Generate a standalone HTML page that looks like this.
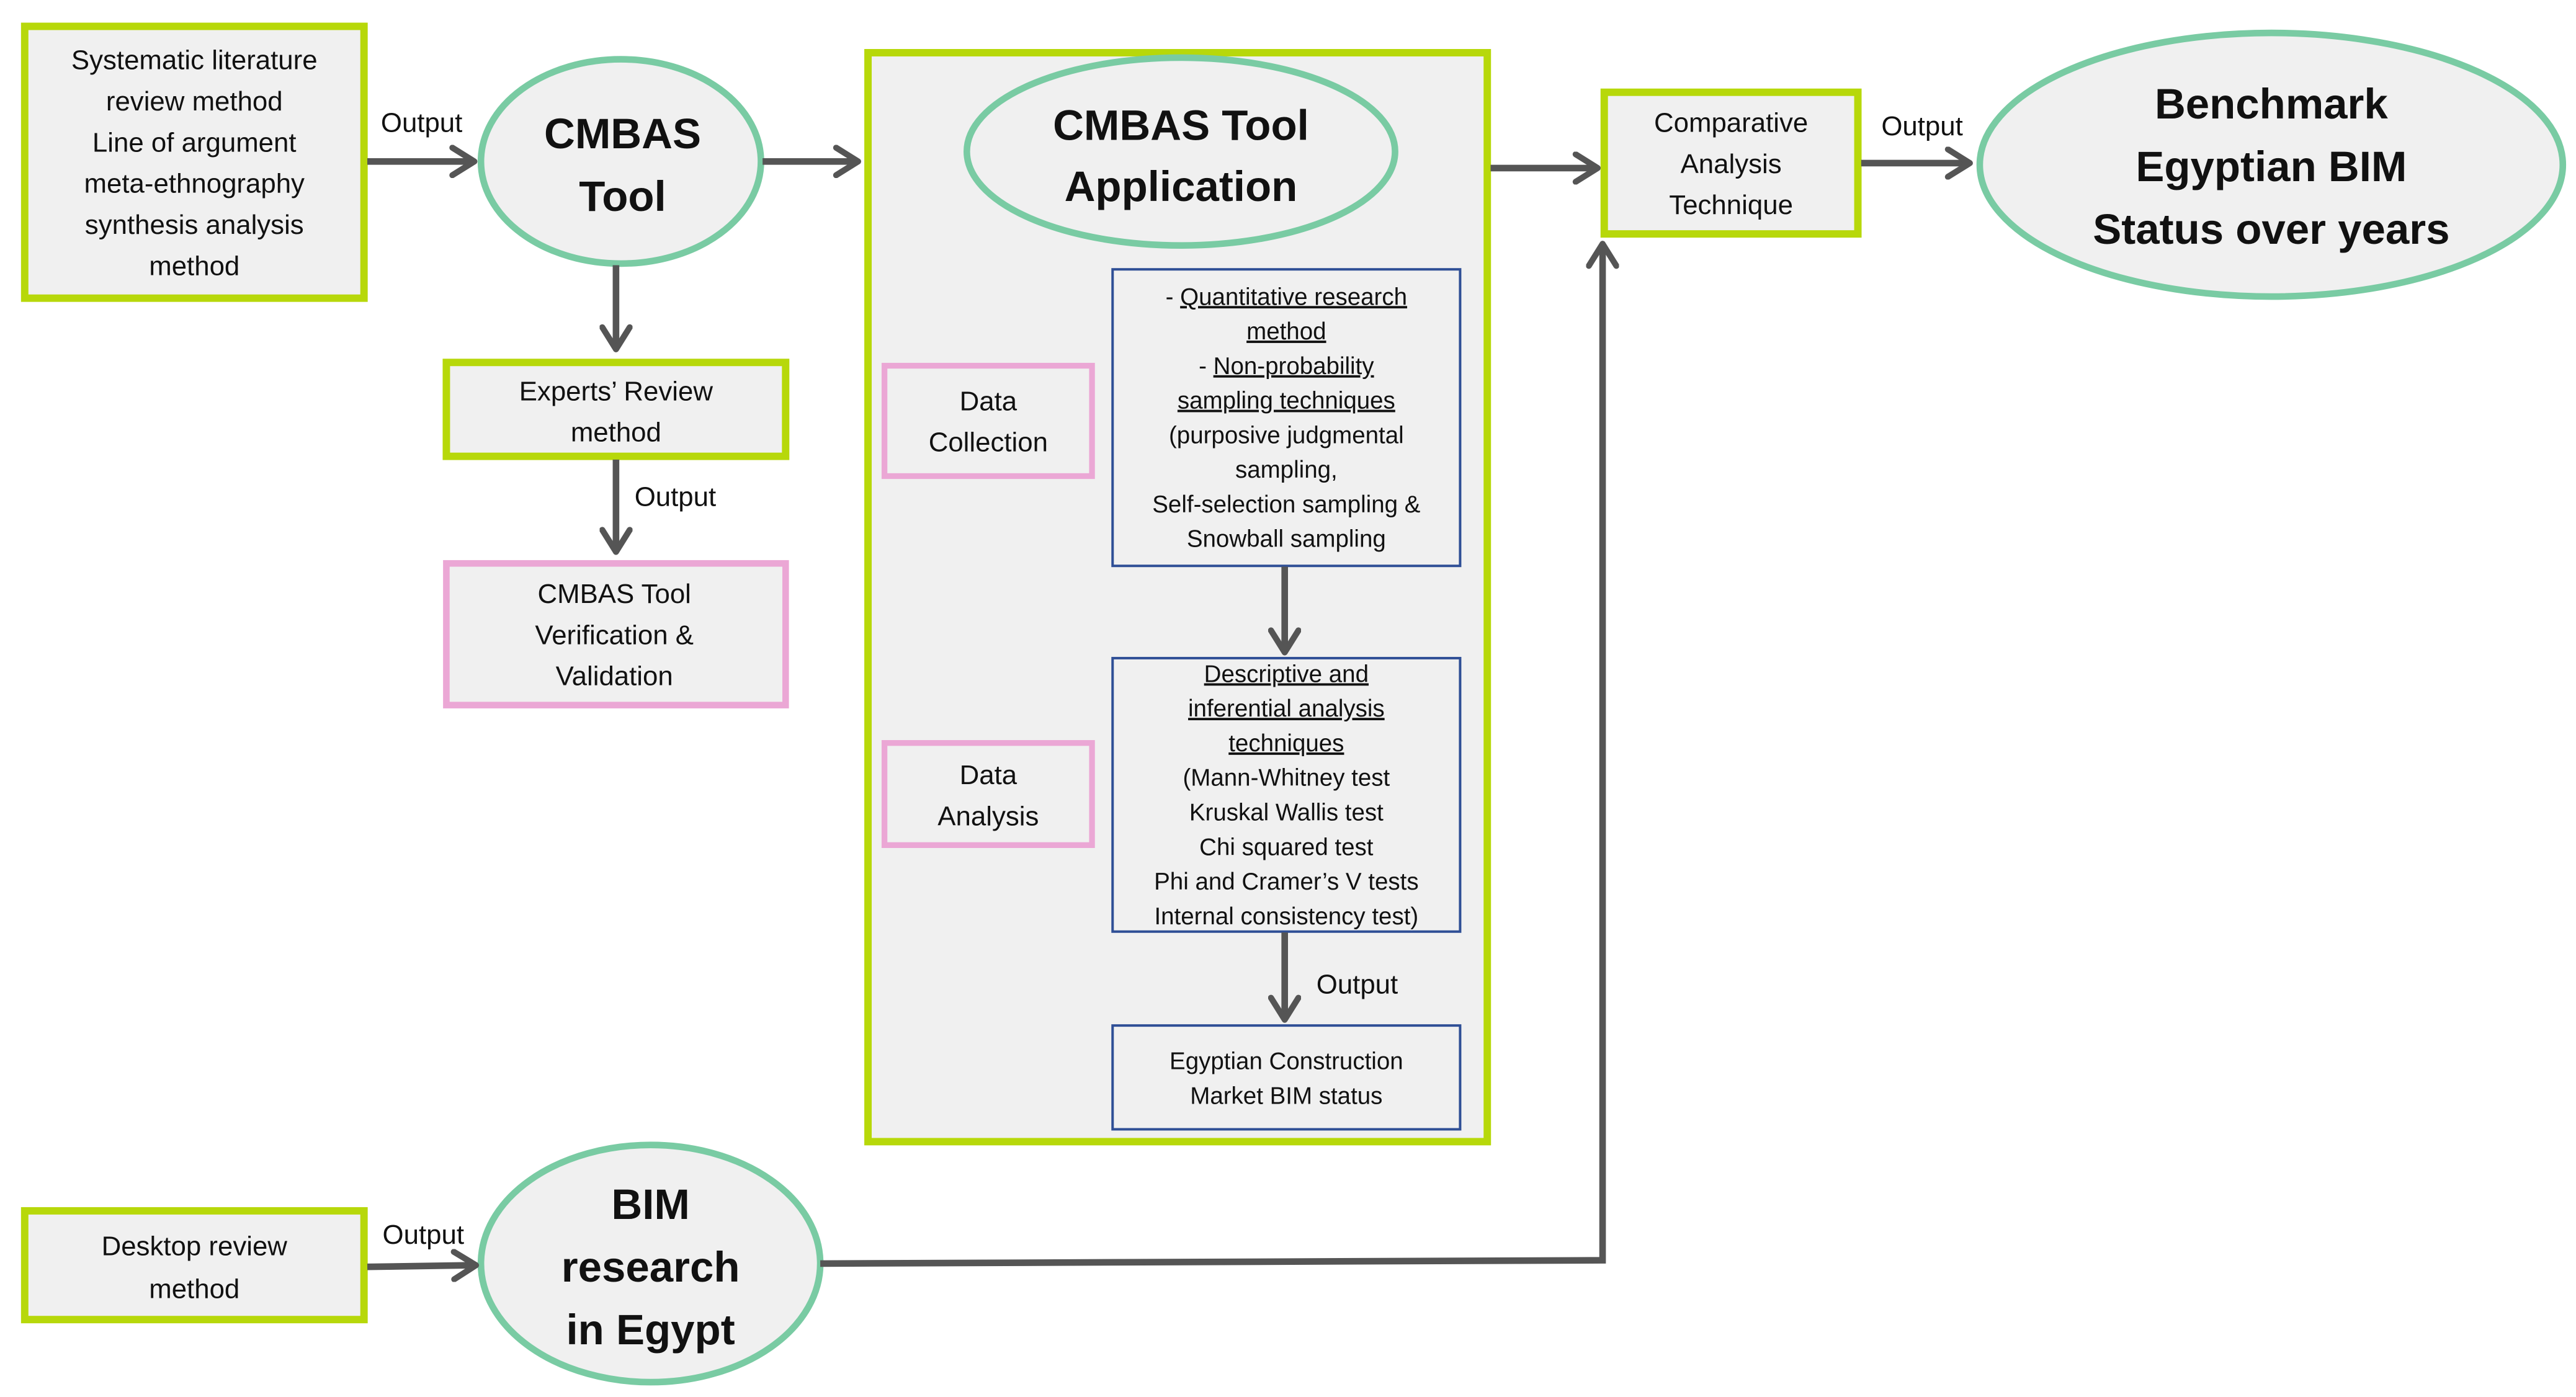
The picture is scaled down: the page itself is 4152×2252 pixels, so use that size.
<!DOCTYPE html>
<html><head><meta charset="utf-8"><style>
html,body{margin:0;padding:0;background:#fff;}
svg{display:block;}
text{font-family:"Liberation Sans",sans-serif;fill:#111;}
.t{font-size:16.5px;text-anchor:middle;}
.s{font-size:14.5px;text-anchor:middle;}
.b{font-size:26px;font-weight:bold;text-anchor:middle;fill:#3a3a3a;}
.u{text-decoration:underline;}
</style></head><body>
<svg width="4152" height="2252" viewBox="0 0 1564 848" preserveAspectRatio="none" xmlns="http://www.w3.org/2000/svg">
<defs>
<marker id="a" viewBox="0 0 12 12" refX="10" refY="6" markerWidth="5" markerHeight="5" orient="auto" markerUnits="strokeWidth">
<polyline points="2,1 10,6 2,11" fill="none" stroke="#555" stroke-width="2.2" stroke-linecap="round" stroke-linejoin="round"/>
</marker>
</defs>
<g fill="#f0f0f0">
<rect x="15" y="16" width="206" height="165" stroke="#b7d80a" stroke-width="4.5"/>
<rect x="271" y="220" width="206" height="57" stroke="#b7d80a" stroke-width="4.5"/>
<rect x="271" y="342" width="206" height="86" stroke="#eba7d5" stroke-width="4"/>
<rect x="527" y="32" width="376" height="661" stroke="#b7d80a" stroke-width="4.5"/>
<rect x="974" y="56" width="154" height="86" stroke="#b7d80a" stroke-width="4.5"/>
<rect x="15" y="735" width="206" height="66" stroke="#b7d80a" stroke-width="4.5"/>
<rect x="537" y="222" width="126" height="67" stroke="#eba7d5" stroke-width="3.5"/>
<rect x="537" y="451" width="126" height="62" stroke="#eba7d5" stroke-width="3.5"/>
<rect x="675.5" y="163.5" width="211" height="180" stroke="#2f4f96" stroke-width="1.5"/>
<rect x="675.5" y="399.5" width="211" height="166" stroke="#2f4f96" stroke-width="1.5"/>
<rect x="675.5" y="622.5" width="211" height="63" stroke="#2f4f96" stroke-width="1.5"/>
<ellipse cx="377" cy="98" rx="85" ry="62" stroke="#79cba3" stroke-width="4"/>
<ellipse cx="717" cy="92" rx="130" ry="57" stroke="#79cba3" stroke-width="4"/>
<ellipse cx="1379" cy="100" rx="177" ry="80" stroke="#79cba3" stroke-width="4"/>
<ellipse cx="395" cy="767" rx="103" ry="72" stroke="#79cba3" stroke-width="4"/>
</g>
<g stroke="#555" stroke-width="4" fill="none" marker-end="url(#a)">
<line x1="223" y1="98" x2="288" y2="98"/>
<line x1="463" y1="98" x2="521" y2="98"/>
<line x1="374" y1="161" x2="374" y2="212"/>
<line x1="374" y1="279" x2="374" y2="335"/>
<line x1="780" y1="344" x2="780" y2="396"/>
<line x1="780" y1="566" x2="780" y2="619"/>
<line x1="905" y1="102" x2="970" y2="102"/>
<line x1="1130" y1="99" x2="1196" y2="99"/>
<line x1="223" y1="769" x2="289" y2="768"/>
<polyline points="498,767 973,765 973,148"/>
</g>
<g class="t">
<text x="118" y="42">Systematic literature</text>
<text x="118" y="67">review method</text>
<text x="118" y="92">Line of argument</text>
<text x="118" y="117">meta-ethnography</text>
<text x="118" y="142">synthesis analysis</text>
<text x="118" y="167">method</text>
<text x="256" y="80">Output</text>
<text x="374" y="243">Experts’ Review</text>
<text x="374" y="268">method</text>
<text x="410" y="307">Output</text>
<text x="373" y="366">CMBAS Tool</text>
<text x="373" y="391">Verification &amp;</text>
<text x="373" y="416">Validation</text>
<text x="600" y="249">Data</text>
<text x="600" y="274">Collection</text>
<text x="600" y="476">Data</text>
<text x="600" y="501">Analysis</text>
<text x="824" y="603">Output</text>
<text x="1051" y="80">Comparative</text>
<text x="1051" y="105">Analysis</text>
<text x="1051" y="130">Technique</text>
<text x="1167" y="82">Output</text>
<text x="118" y="762">Desktop review</text>
<text x="118" y="788">method</text>
<text x="257" y="755">Output</text>
</g>
<g class="s">
<text x="781" y="185">- <tspan class="u">Quantitative research</tspan></text>
<text x="781" y="206" class="u">method</text>
<text x="781" y="227">- <tspan class="u">Non-probability</tspan></text>
<text x="781" y="248" class="u">sampling techniques</text>
<text x="781" y="269">(purposive judgmental</text>
<text x="781" y="290">sampling,</text>
<text x="781" y="311">Self-selection sampling &amp;</text>
<text x="781" y="332">Snowball sampling</text>
<text x="781" y="414" class="u">Descriptive and</text>
<text x="781" y="435" class="u">inferential analysis</text>
<text x="781" y="456" class="u">techniques</text>
<text x="781" y="477">(Mann-Whitney test</text>
<text x="781" y="498">Kruskal Wallis test</text>
<text x="781" y="519">Chi squared test</text>
<text x="781" y="540">Phi and Cramer’s V tests</text>
<text x="781" y="561">Internal consistency test)</text>
<text x="781" y="649">Egyptian Construction</text>
<text x="781" y="670">Market BIM status</text>
</g>
<g class="b">
<text x="378" y="90">CMBAS</text>
<text x="378" y="128">Tool</text>
<text x="717" y="85">CMBAS Tool</text>
<text x="717" y="122">Application</text>
<text x="1379" y="72">Benchmark</text>
<text x="1379" y="110">Egyptian BIM</text>
<text x="1379" y="148">Status over years</text>
<text x="395" y="740">BIM</text>
<text x="395" y="778">research</text>
<text x="395" y="816">in Egypt</text>
</g>
</svg>
</body></html>
